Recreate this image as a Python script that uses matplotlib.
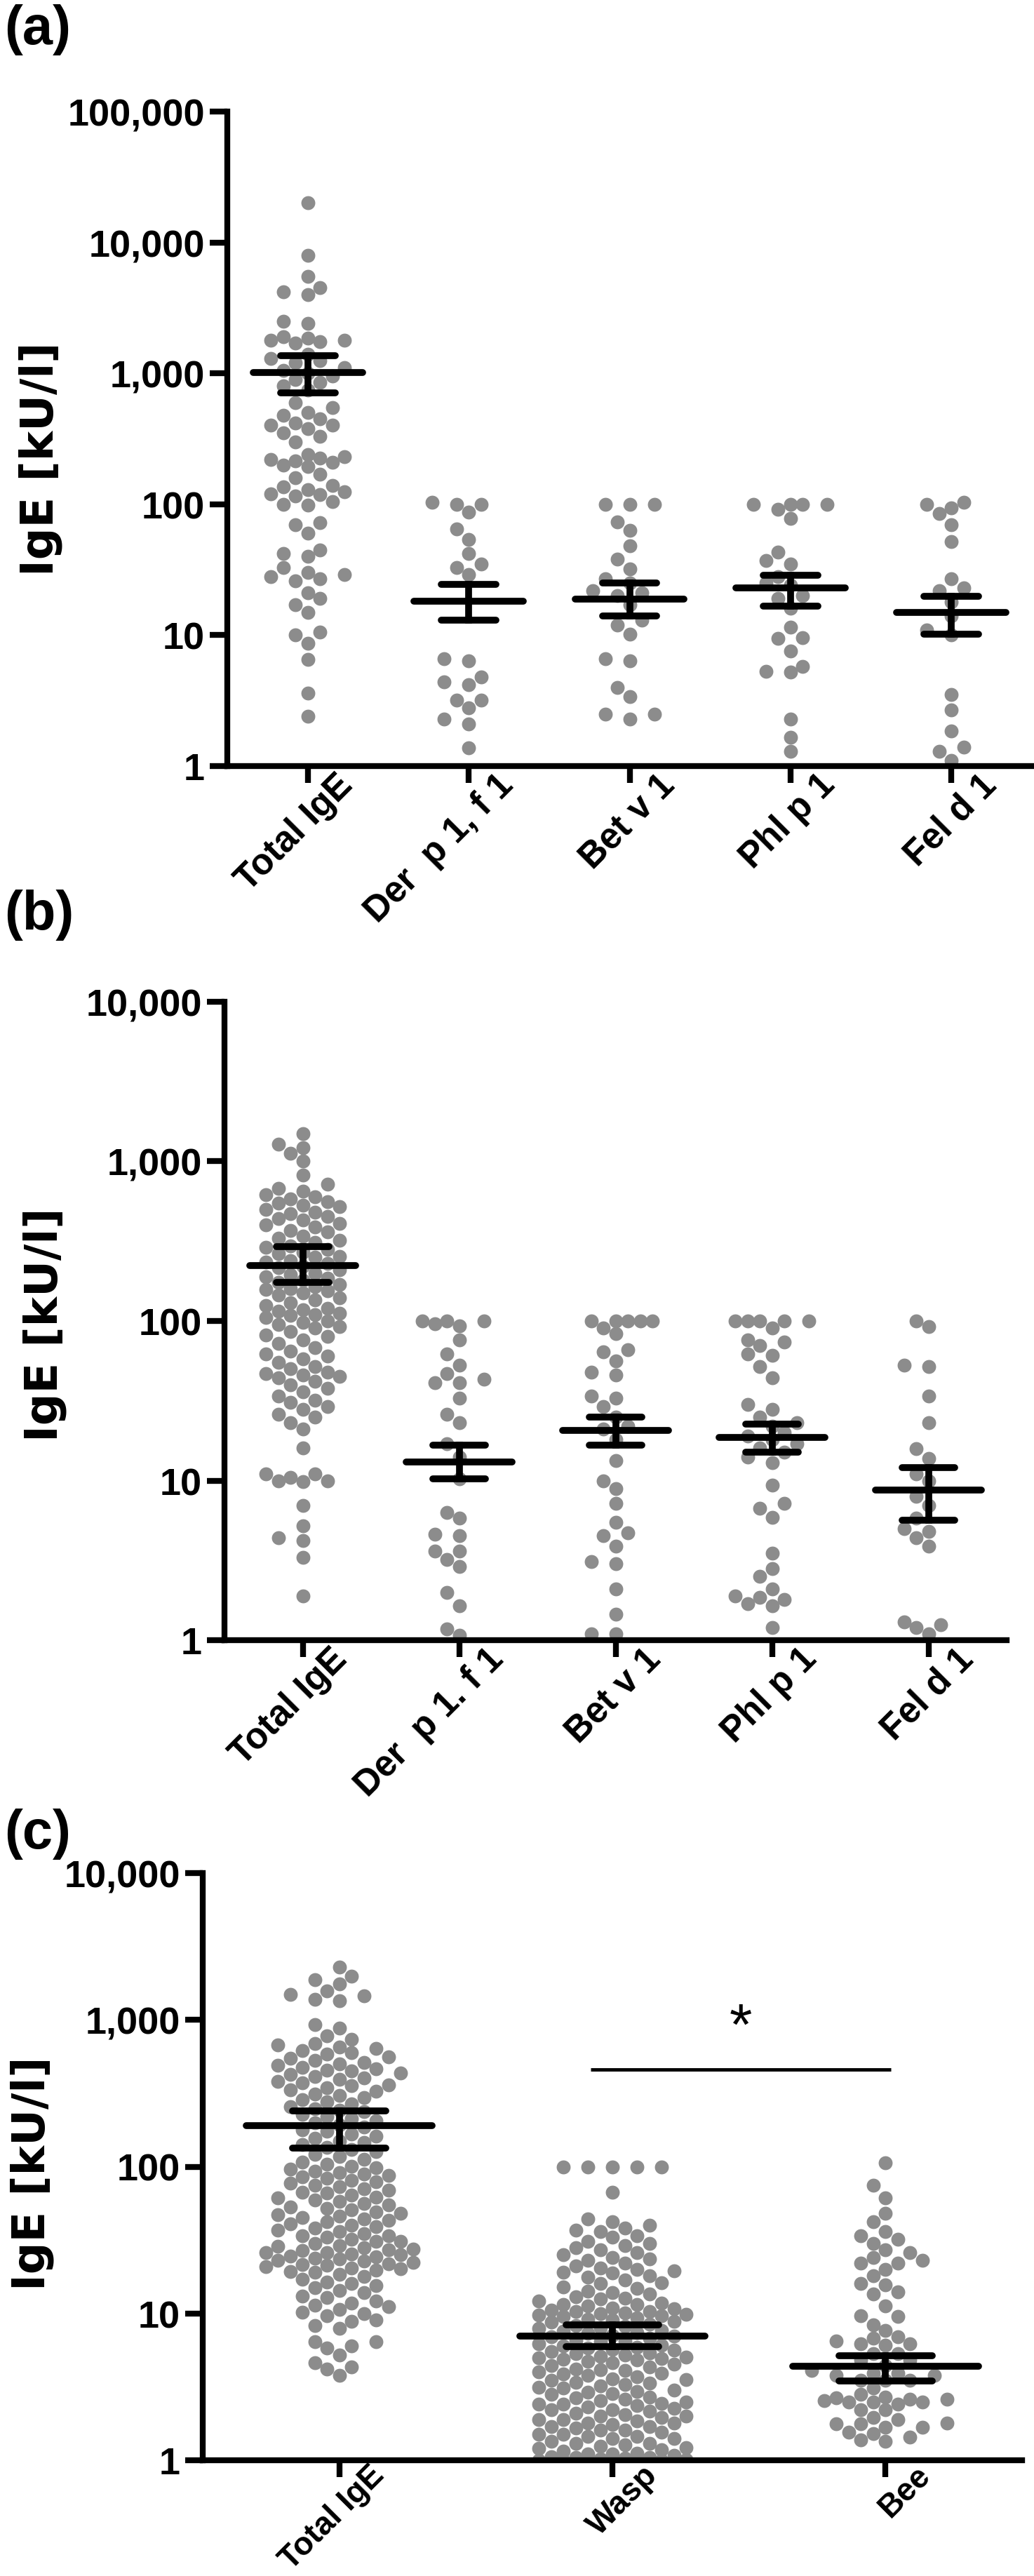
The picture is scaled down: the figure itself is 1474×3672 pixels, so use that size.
import numpy as np
import matplotlib
matplotlib.use("Agg")
import matplotlib.pyplot as plt
import matplotlib.transforms as mtransforms
from matplotlib.ticker import FixedLocator, FuncFormatter, NullLocator

plt.rcParams["font.family"] = ["Liberation Sans", "DejaVu Sans"]
plt.rcParams["font.weight"] = "bold"

DOT = "#8c8c8c"

# ---------------- panel (a) ----------------
cats_a = ["Total IgE", "Der  p 1, f 1", "Bet v 1", "Phl p 1", "Fel d 1"]
total_a = [20000, 8000, 5500, 4500, 4200, 4000, 2500, 2400,
           1900, 1850, 1800, 1800, 1750, 1700,
           1400, 1300, 1250, 1200, 1100, 1050, 1000, 950, 900, 850, 800, 750,
           600, 550, 500, 480, 450, 420, 400, 400, 380, 350, 330, 300,
           240, 230, 225, 220, 215, 210, 200, 195, 170, 160,
           140, 135, 130, 125, 120, 118, 115, 105, 100, 98,
           72, 70, 60, 45, 42, 40, 33, 30, 29, 28, 27, 26,
           21, 19, 17, 15, 10.5, 10, 8.7, 6.5, 3.6, 2.4]
derp_a = [103, 100, 100, 87, 65, 54, 42, 35, 33, 29,
          6.6, 6.4, 4.8, 4.4, 4.2, 3.2, 3.2, 2.8, 2.3, 2.1, 1.37]
betv_a = [100, 100, 100, 73, 63, 48, 38, 32, 27, 25, 22, 21, 20, 17,
          13, 12, 10.2, 6.6, 6.4, 4.0, 3.4, 2.5, 2.5, 2.3]
phlp_a = [100, 100, 100, 100, 92, 78, 43, 37, 35, 28, 25, 24, 20, 19, 16,
          11.5, 9.6, 9.4, 7.6, 5.8, 5.3, 5.2, 2.3, 1.65, 1.3]
feld_a = [104, 100, 94, 85, 70, 52, 27, 23, 22, 18, 14, 11, 10,
          3.5, 2.7, 1.85, 1.4, 1.3, 1.1]
mean_a = [1020, 18.2, 18.8, 22.9, 14.9]
low_a = [710, 13.0, 14.0, 16.7, 10.2]
high_a = [1370, 24.3, 25.0, 28.8, 19.9]

# ---------------- panel (b) ----------------
cats_b = ["Total IgE", "Der  p 1. f 1", "Bet v 1", "Phl p 1", "Fel d 1"]
total_b = [1490, 1280, 1220, 1120, 1000,
           820, 720, 680, 650, 620, 600,
           580, 560, 550, 530, 520, 500, 480, 470, 450, 440,
           430, 410, 400, 390, 370, 360, 340, 330, 320, 310,
           295, 290, 280, 270, 265, 255, 250, 240, 235, 230, 220, 215, 210,
           200, 195, 190, 185, 180, 175, 170, 165, 160, 158, 155, 150,
           145, 140, 135, 130, 125, 120, 118, 115, 112, 110, 108,
           105, 100, 98, 95, 92, 90, 86, 82, 80, 76, 72,
           68, 65, 62, 60, 58, 55, 52, 50, 48, 47, 46, 45, 44, 42,
           40, 38, 36, 34, 32, 31, 29, 28, 26, 25, 23, 21,
           16, 11, 11, 10.5, 10, 10, 9.8, 7, 5.2, 4.4, 4.2, 3.3, 1.9]
derp_b = [100, 100, 100, 96, 93, 76, 62, 53, 47, 43, 41, 41, 33, 26, 23,
          17, 14, 10.3, 6.3, 5.8, 4.6, 4.5, 3.6, 3.6, 3.2, 2.9, 2.0, 1.65,
          1.17, 1.07]
betv_b = [100, 100, 100, 100, 100, 90, 83, 66, 64, 56, 48, 46, 34, 33, 29,
          25, 22, 21, 18, 13.3, 10, 8.9, 7.2, 5.5, 4.7, 4.5, 3.9, 3.1, 3.0,
          2.1, 1.46, 1.1, 1.1]
phlp_b = [100, 100, 100, 100, 100, 90, 76, 74, 70, 62, 61, 52, 44, 30, 28,
          25, 23, 22, 20, 19, 18, 17, 16, 15, 14, 13, 9.4, 7.2, 6.7, 5.9,
          3.5, 2.8, 2.5, 2.1, 1.9, 1.85, 1.8, 1.7, 1.65, 1.2]
feld_b = [100, 92, 53, 52, 34, 23, 15.8, 13.7, 11, 10, 8, 7, 5.8, 5.0, 4.8,
          4.4, 3.9, 1.3, 1.25, 1.2, 1.1]
mean_b = [222, 13.1, 20.6, 18.7, 8.75]
low_b = [175, 10.3, 16.6, 15.0, 5.65]
high_b = [293, 16.6, 24.9, 22.5, 12.1]

# ---------------- panel (c) ----------------
cats_c = ["Total IgE", "Wasp", "Bee"]
total_c = [2300, 1980, 1870, 1760, 1580, 1490, 1450, 1380, 1350,
           930, 880, 780, 740,
           690, 672, 655, 640, 618, 597, 585, 560, 548, 532, 515, 503, 488,
           476, 463, 455, 447, 436,
           425, 412, 404, 392, 381, 373, 362, 355, 346, 333, 327, 314, 306,
           295, 287, 276, 268, 257, 249, 243, 236, 228, 219, 212, 205, 199,
           193, 186, 179, 174, 167, 161, 156, 150, 146, 141, 136, 131, 126,
           121, 117, 112, 108, 104, 101,
           98, 96, 93, 91, 89, 87, 85, 83, 81, 79, 77, 75, 73, 71, 69, 67,
           66, 64, 62, 61, 59, 58, 56, 55, 53, 52, 51, 49, 48, 47, 46, 45,
           44, 43, 42, 41, 40, 39, 38, 37, 36, 35, 34, 34, 33, 32, 31, 31,
           30, 29,
           28.6, 28.1, 27.5, 27.2, 26.8, 26.1, 25.9, 25.4, 25.0, 24.6, 24.3,
           23.8, 23.5, 23.1, 22.7, 22.2, 21.9, 21.5, 21.2, 20.8, 20.4, 20.1,
           19.7, 19.4, 19.1,
           18.5, 17.8, 17.1, 16.4, 16.0, 15.5, 15.0, 14.4, 13.8, 13.1, 12.9,
           12.2, 11.8, 11.4, 11.1, 10.6, 10.2, 10.0,
           9.7, 9.0, 8.8, 8.3, 7.9, 6.4, 6.4, 6.0, 5.8, 5.2, 4.6, 4.3, 4.2, 3.8]
wasp_c = [100, 100, 100, 100, 100, 67,
          44, 42, 40, 38, 37, 36, 34, 33, 31, 30, 29, 28, 27, 26, 25, 24,
          23.5, 23, 22, 21, 20.5, 20, 19.5, 19, 18.8,
          18.1, 17.6, 16.9, 16.2, 16.0, 15.1, 14.9, 14.2, 13.9, 13.5, 13.0,
          12.7, 12.6, 12.1, 11.8, 11.5, 11.5, 11.2, 10.9, 10.8, 10.5, 10.3,
          10.3, 10.1, 10.0, 9.9, 9.8,
          9.6, 9.5, 9.3, 9.1, 9.0, 8.8, 8.7, 8.5, 8.3, 8.2, 8.0, 7.9, 7.7,
          7.6, 7.4, 7.3, 7.1, 7.0, 6.9, 6.8, 6.6, 6.5, 6.4, 6.2, 6.1, 6.0,
          5.9, 5.8, 5.7, 5.6, 5.5, 5.4, 5.3, 5.2, 5.1, 5.05, 5.0, 4.95,
          4.9, 4.8, 4.7, 4.6, 4.5, 4.4, 4.3, 4.2, 4.15, 4.1, 4.0, 3.9, 3.85,
          3.8, 3.7, 3.6, 3.55, 3.5, 3.4, 3.35, 3.3, 3.2, 3.15, 3.1, 3.0,
          2.95, 2.9, 2.85, 2.8, 2.7, 2.65, 2.6, 2.55, 2.5, 2.45, 2.4, 2.4,
          2.35, 2.3, 2.25, 2.2, 2.2, 2.15, 2.1, 2.05, 2.0, 2.0, 1.95, 1.9,
          1.9, 1.85, 1.8, 1.8, 1.75, 1.7, 1.7, 1.65, 1.6, 1.6, 1.55, 1.5,
          1.5, 1.45, 1.45, 1.4, 1.4, 1.35, 1.3, 1.3, 1.28, 1.25, 1.22, 1.2,
          1.18, 1.15, 1.12, 1.1, 1.1, 1.08, 1.06, 1.05, 1.04, 1.03, 1.02,
          1.01, 1.0, 1.0, 1.0, 1.0, 1.0, 1.0]
bee_c = [106, 75, 61, 48, 42, 36, 34, 32, 30, 27, 26, 24, 23, 22, 22, 20,
         18, 16, 15.6, 14.1, 13.6, 11.2, 9.7, 9.5, 8.4, 7.7, 6.9, 6.8, 6.5,
         6.2, 6.2, 6.1, 5.3, 5.3, 4.8, 4.8, 4.4, 4.1, 3.9, 3.9, 3.8, 3.8,
         3.5, 3.5, 3.5, 3.1, 2.8, 2.7, 2.65, 2.6, 2.6, 2.55, 2.5, 2.5, 2.5,
         2.4, 2.2, 2.2, 1.95, 1.9, 1.8, 1.77, 1.77, 1.68, 1.67, 1.56, 1.52,
         1.44, 1.37, 1.35]
mean_c = [190, 7.0, 4.35]
low_c = [134, 5.93, 3.46]
high_c = [241, 8.34, 5.13]
sig_pair = (0.92, 2.02)
sig_level = 457

FIG_W, FIG_H = 1474, 3673


def slot_offsets(values, px_per_decade, dot_px, step_px, max_slot):
    y = np.log10(values) * px_per_decade
    order = np.argsort(y, kind="stable")
    slots = [0]
    for k in range(1, max_slot + 1):
        slots += [-k, k]
    placed = []
    out = np.zeros(len(values))
    min_d2 = (dot_px ** 2) * 0.92
    for i in order:
        yi = y[i]
        near = [(s, yy) for s, yy in placed if yi - yy < dot_px]
        chosen, best, best_d = None, 0, -1.0
        for s in slots:
            d2 = min([((s - s2) * step_px) ** 2 + (yi - y2) ** 2
                      for s2, y2 in near], default=1e9)
            if d2 >= min_d2:
                chosen = s
                break
            if d2 > best_d:
                best, best_d = s, d2
        if chosen is None:
            chosen = best
        placed.append((chosen, yi))
        out[i] = chosen * step_px
    return out


def add_panel(fig, box, cats, groups, means, lows, highs, ymax, max_slot,
              label_size, label_shift):
    left, right, top, bottom = box
    ax = fig.add_axes([left / FIG_W, 1 - bottom / FIG_H,
                       (right - left) / FIG_W, (bottom - top) / FIG_H])
    n = len(cats)
    ax.set_yscale("log")
    ax.set_ylim(1, ymax)
    ax.set_xlim(-0.5, n - 0.5)

    px_per_unit = (right - left) / n
    px_per_dec = (bottom - top) / np.log10(ymax)

    for i, vals in enumerate(groups):
        vals = np.asarray(vals, dtype=float)
        off = slot_offsets(vals, px_per_dec, 20, 17.5, max_slot) / px_per_unit
        ax.scatter(i + off, vals, s=205, c=DOT, linewidths=0, zorder=2)

    for i in range(n):
        ax.plot([i - 0.34, i + 0.34], [means[i]] * 2, color="black", lw=7,
                solid_capstyle="round", zorder=3)
        for v in (lows[i], highs[i]):
            ax.plot([i - 0.17, i + 0.17], [v, v], color="black", lw=7,
                    solid_capstyle="round", zorder=3)
        ax.plot([i, i], [lows[i], highs[i]], color="black", lw=7, zorder=3)

    for side in ("top", "right"):
        ax.spines[side].set_visible(False)
    for side in ("left", "bottom"):
        ax.spines[side].set_linewidth(6)
        ax.spines[side].set_zorder(4)

    decades = [10 ** k for k in range(int(round(np.log10(ymax))) + 1)]
    ax.yaxis.set_major_locator(FixedLocator(decades))
    ax.yaxis.set_minor_locator(NullLocator())
    ax.yaxis.set_major_formatter(FuncFormatter(lambda v, _: f"{v:,.0f}"))
    ax.tick_params(axis="y", length=18, width=6, pad=5, labelsize=39)

    ax.set_xticks(range(n))
    ax.set_xticklabels(cats, rotation=45, ha="right", va="top",
                       rotation_mode="anchor", fontsize=label_size,
                       fontweight="bold")
    ax.tick_params(axis="x", length=17, width=6, pad=2)
    dx, dy = label_shift
    shift = mtransforms.ScaledTranslation(dx / 72, dy / 72, fig.dpi_scale_trans)
    for lab in ax.get_xticklabels():
        lab.set_transform(lab.get_transform() + shift)
    for lab in ax.get_yticklabels():
        lab.set_fontweight("bold")
    return ax


fig = plt.figure(figsize=(FIG_W / 100, FIG_H / 100), dpi=100)

ax_a = add_panel(fig, (324, 1471, 160, 1093), cats_a,
                 [total_a, derp_a, betv_a, phlp_a, feld_a],
                 mean_a, low_a, high_a, 100000, 3, 37, (28, 18))
ax_b = add_panel(fig, (320, 1435, 1429, 2339), cats_b,
                 [total_b, derp_b, betv_b, phlp_b, feld_b],
                 mean_b, low_b, high_b, 10000, 3, 37, (28, 18))
ax_c = add_panel(fig, (289, 1457, 2671, 3508), cats_c,
                 [total_c, wasp_c, bee_c],
                 mean_c, low_c, high_c, 10000, 6, 33, (30, 20))

# the axis title is set in the wider DejaVu face, closer to the original's width
for ax, xl, yl in ((ax_a, -0.232, 0.47), (ax_b, -0.23, 0.495), (ax_c, -0.208, 0.49)):
    ax.text(xl, yl, "IgE [kU/l]", transform=ax.transAxes, rotation=90,
            ha="center", va="center", fontsize=46, fontweight="bold",
            family=["DejaVu Sans"])

ax_c.plot(sig_pair, [sig_level, sig_level], color="black", lw=3.5,
          solid_capstyle="butt")
ax_c.text(sum(sig_pair) / 2, sig_level * 1.25, "*", ha="center",
          va="bottom", fontsize=60, fontweight="normal")

for label, top in (("(a)", 6), ("(b)", 1268), ("(c)", 2578)):
    fig.text(6 / FIG_W, 1 - top / FIG_H, label, ha="left", va="top",
             fontsize=56, fontweight="bold")

fig.savefig("out.png", dpi=100, facecolor="white")
plt.close(fig)
